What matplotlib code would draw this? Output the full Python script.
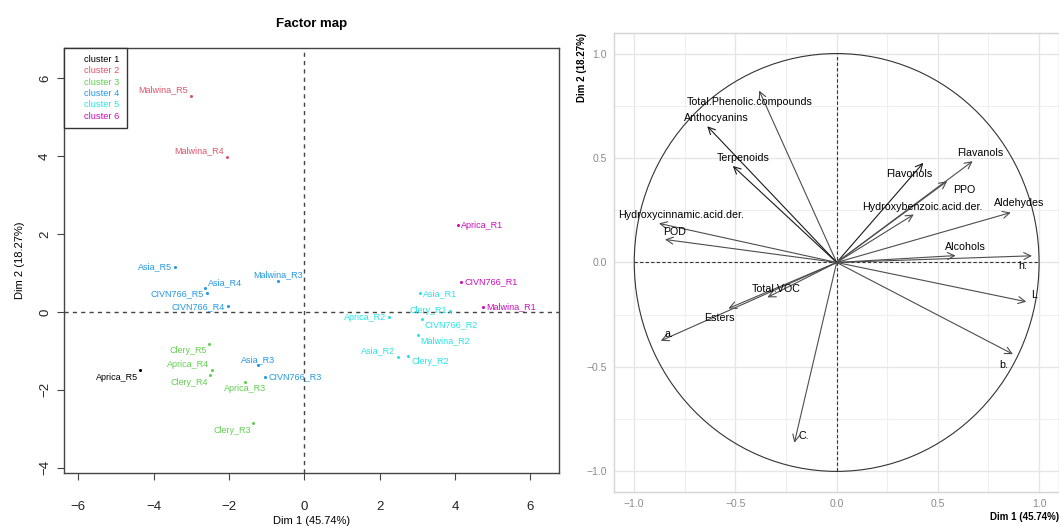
import numpy as np
import matplotlib.pyplot as plt
from matplotlib.lines import Line2D
from matplotlib.patches import Circle

plt.rcParams['font.family'] = ['Liberation Sans', 'DejaVu Sans']

# individuals (factor map)
ind_names = ['Malwina_R5', 'Malwina_R4', 'Aprica_R1', 'Asia_R5', 'Asia_R4', 'CIVN766_R5',
             'CIVN766_R4', 'Malwina_R3', 'Clery_R5', 'Aprica_R4', 'Clery_R4', 'Aprica_R5',
             'Asia_R3', 'CIVN766_R3', 'Aprica_R3', 'Clery_R3', 'Aprica_R2', 'Clery_R1',
             'CIVN766_R2', 'Asia_R1', 'Malwina_R2', 'Asia_R2', 'Clery_R2', 'CIVN766_R1',
             'Malwina_R1']
ind_dim1 = [-3.01, -2.05, 4.09, -3.42, -2.63, -2.58, -2.03, -0.70, -2.54, -2.44, -2.50, -4.35,
            -1.23, -1.04, -1.57, -1.36, 2.25, 3.86, 3.11, 3.08, 3.01, 2.49, 2.76, 4.17, 4.75]
ind_dim2 = [5.54, 3.98, 2.22, 1.16, 0.62, 0.48, 0.14, 0.79, -0.82, -1.50, -1.62, -1.49,
            -1.37, -1.66, -1.81, -2.85, -0.14, 0.03, -0.18, 0.48, -0.59, -1.15, -1.12, 0.78, 0.13]
ind_cluster = [2, 2, 6, 4, 4, 4, 4, 4, 3, 3, 3, 1, 4, 4, 3, 3, 5, 5, 5, 5, 5, 5, 5, 6, 6]
cluster_names = ['cluster 1', 'cluster 2', 'cluster 3', 'cluster 4', 'cluster 5', 'cluster 6']

# variables (correlation circle)
var_names = ['Total.Phenolic.compounds', 'Anthocyanins', 'Terpenoids', 'Hydroxycinnamic.acid.der.',
             'POD', 'Flavonols', 'Flavanols', 'PPO', 'Hydroxybenzoic.acid.der.', 'Aldehydes',
             'Alcohols', 'h.', 'L', 'b.', 'C.', 'a.', 'Esters', 'Total.VOC']
var_dim1 = [-0.383, -0.639, -0.513, -0.878, -0.848, 0.428, 0.672, 0.546, 0.381, 0.860,
            0.588, 0.965, 0.937, 0.871, -0.209, -0.869, -0.535, -0.342]
var_dim2 = [0.823, 0.652, 0.462, 0.187, 0.110, 0.477, 0.485, 0.389, 0.230, 0.239,
            0.033, 0.032, -0.188, -0.439, -0.863, -0.375, -0.220, -0.167]

# layout / style
cl_cols = ['black', '#DF536B', '#61D04F', '#2297E6', '#28E2E5', '#CD0BBC']
# label placement of individuals relative to point (pixels): dx, dy, ha
pos = {'l': (-3, 0, 'right'), 'r': (3, 0, 'left'), 'tl': (-3, 6, 'right'), 'tr': (3, 5, 'left'),
       'bl': (-2, -7, 'right'), 'br': (3, -6, 'left'), 't': (0, 6, 'center'), 'b': (0, -6, 'center')}
ind_lab = ['tl', 'tl', 'r', 'l', 'tr', 'l', 'l', 't', 'bl', 'tl', 'bl', 'bl',
           't', 'r', 'b', 'bl', 'l', 'l', 'br', 'r', 'br', 'tl', 'br', 'r', 'r']
var_lab_off = [(-9, -11), (9, 8), (10, 8), (22, 8), (10, 7), (-14, -11), (8, 8), (17, -9),
               (9, 7), (8, 10), (10, 9), (-9, -10), (8, 7), (-9, -11), (9, 7), (8, 7),
               (-9, -10), (9, 8)]
dark_vars = ['Anthocyanins', 'Terpenoids', 'Flavonols']

fig = plt.figure(figsize=(10.59, 5.26), dpi=100)

# ---- left: factor map
ax = fig.add_axes([0.060, 0.1002, 0.4679, 0.8091])
ax.set_xlim(-6.39, 6.76)
ax.set_ylim(-4.14, 6.78)
ax.axhline(0, color='#444444', lw=1, ls=(0, (3, 3)))
ax.axvline(0, color='#444444', lw=1, ls=(0, (3, 3)))
for n, x, y, c, p in zip(ind_names, ind_dim1, ind_dim2, ind_cluster, ind_lab):
    col = cl_cols[c - 1]
    ax.plot(x, y, 'o', ms=2.2, color=col, mec='none')
    dx, dy, ha = pos[p]
    ax.annotate(n, (x, y), xytext=(dx, dy), textcoords='offset pixels',
                ha=ha, va='center', fontsize=6.5, color=col)
ax.set_xticks([-6, -4, -2, 0, 2, 4, 6])
ax.set_yticks([-4, -2, 0, 2, 4, 6])
ax.tick_params(direction='out', length=5, color='#444444', labelsize=9.5, labelcolor='#222222')
ax.tick_params(axis='x', pad=15)
ax.tick_params(axis='y', pad=4, labelrotation=90)
for lab in ax.get_yticklabels():
    lab.set_va('center')
for s in ax.spines.values():
    s.set_color('#444444')
    s.set_linewidth(1)
ax.set_title('Factor map', fontsize=9.5, fontweight='bold', pad=15)
ax.set_xlabel('Dim 1 (45.74%)', fontsize=8, labelpad=2)
ax.set_ylabel('Dim 2 (18.27%)', fontsize=8, labelpad=10)
handles = [Line2D([], [], ls='none') for _ in cluster_names]
leg = ax.legend(handles, cluster_names, loc='upper left', borderaxespad=0, fontsize=6.7,
                labelcolor=cl_cols, handlelength=1.1, handletextpad=0.3, labelspacing=0.25,
                borderpad=0.8, fancybox=False, edgecolor='#333333', framealpha=1)
leg.get_frame().set_linewidth(1)

# ---- right: variables circle
ax2 = fig.add_axes([0.5798, 0.0641, 0.4205, 0.8738])
ax2.set_xlim(-1.1, 1.1)
ax2.set_ylim(-1.1, 1.1)
ax2.set_xticks([-1, -0.5, 0, 0.5, 1])
ax2.set_yticks([-1, -0.5, 0, 0.5, 1])
ax2.set_xticks([-0.75, -0.25, 0.25, 0.75], minor=True)
ax2.set_yticks([-0.75, -0.25, 0.25, 0.75], minor=True)
ax2.set_xticklabels(['\u22121.0', '\u22120.5', '0.0', '0.5', '1.0'])
ax2.set_yticklabels(['\u22121.0', '\u22120.5', '0.0', '0.5', '1.0'])
ax2.grid(which='major', color='#E6E6E6', lw=1)
ax2.grid(which='minor', color='#EFEFEF', lw=0.8)
ax2.set_axisbelow(True)
ax2.tick_params(which='both', length=0, labelsize=7.5, labelcolor='#8A8A8A', pad=5)
for s in ax2.spines.values():
    s.set_color('#D5D5D5')
    s.set_linewidth(1)
ax2.add_patch(Circle((0, 0), 1, fill=False, color='#333333', lw=0.8))
ax2.plot([-1, 1], [0, 0], color='#333333', lw=0.8, ls=(0, (3, 2)))
ax2.plot([0, 0], [-1, 1], color='#333333', lw=0.8, ls=(0, (3, 2)))
for n, x, y, off in zip(var_names, var_dim1, var_dim2, var_lab_off):
    col = '#1a1a1a' if n in dark_vars else '#4d4d4d'
    ax2.annotate('', xy=(x, y), xytext=(0, 0),
                 arrowprops=dict(arrowstyle='->,head_length=0.5,head_width=0.25',
                                 color=col, lw=0.8, shrinkA=0, shrinkB=0))
    ax2.annotate(n, (x, y), xytext=off, textcoords='offset pixels',
                 ha='center', va='center', fontsize=7.7, color='black')
ax2.set_xlabel('Dim 1 (45.74%)', fontsize=7, fontweight='bold', loc='right', labelpad=2)
ax2.set_ylabel('Dim 2 (18.27%)', fontsize=7, fontweight='bold', loc='top', labelpad=0)

fig.savefig('out.png', dpi=100)
